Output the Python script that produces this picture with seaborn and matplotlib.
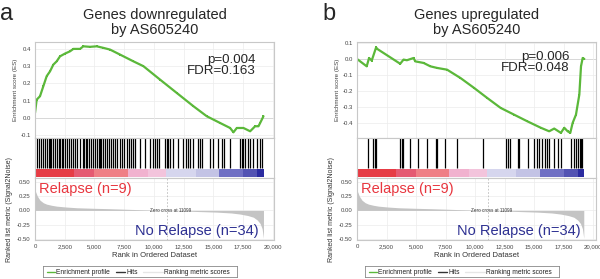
import numpy as np
import pandas as pd
import matplotlib
matplotlib.use("Agg")
import matplotlib.pyplot as plt
import seaborn as sns

sns.set_style("white")
plt.rcParams['font.family'] = ['Liberation Sans', 'DejaVu Sans']

# ---- panel a : genes downregulated ----
es_a_rank = [0, 140, 421, 701, 982, 1262, 1543, 1823, 2104, 2525, 2945, 3226, 3787, 4067,
             4628, 5189, 5750, 6311, 7153, 8275, 9116, 10519, 11921, 13324, 14446, 15568,
             16410, 16690, 16971, 17532, 18093, 18513, 18794, 18934, 19215]
es_a_val = [0.029, 0.106, 0.126, 0.184, 0.242, 0.27, 0.309, 0.328, 0.357, 0.373, 0.386, 0.4,
            0.4, 0.415, 0.412, 0.415, 0.406, 0.396, 0.367, 0.328, 0.3, 0.222, 0.145, 0.068,
            0.01, -0.029, -0.058, -0.083, -0.058, -0.058, -0.077, -0.048, -0.048, -0.029, 0.01]
hits_a = [196, 364, 532, 700, 812, 980, 1148, 1260, 1372, 1540, 1708, 1820, 1988, 2100, 2268,
          2380, 2548, 2716, 2884, 3052, 3220, 3388, 3500, 3780, 4004, 4116, 4284, 4396, 4564,
          4732, 4900, 5068, 5180, 5348, 5460, 5572, 5684, 5852, 6020, 6188, 6356, 6580, 6748,
          6916, 7140, 7308, 7476, 7700, 7868, 8092, 8260, 8428, 8820, 9240, 9660, 9890, 10084,
          10252, 10420, 10924, 11092, 11176, 11344, 11596, 12017, 12437, 12689, 12857, 13025,
          13277, 13697, 13866, 14034, 14706, 14958, 15378, 15714, 15882, 16387, 17227, 17395,
          17479, 17647, 17899, 18067, 18319, 18655, 18908, 19076]

# ---- panel b : genes upregulated ----
es_b_rank = [0, 823, 1021, 1248, 1617, 1730, 3660, 3943, 4227, 4794, 4936, 5645, 6213, 6780,
             7631, 8766, 9900, 11035, 12170, 13305, 14440, 15574, 16283, 16709, 17277, 17560,
             17844, 18071, 18270, 18553, 18837, 18979, 19121, 19262]
es_b_val = [0.0, -0.046, 0.006, -0.01, 0.072, 0.062, -0.03, -0.004, -0.008, 0.006, -0.015,
            -0.025, -0.046, -0.056, -0.067, -0.119, -0.18, -0.244, -0.306, -0.348, -0.39,
            -0.43, -0.452, -0.435, -0.462, -0.43, -0.452, -0.462, -0.40, -0.348, -0.223,
            -0.046, 0.006, 0.0]
hits_b = [936, 1362, 1532, 1617, 3660, 3830, 3915, 4511, 5191, 5957, 6723, 6809, 7489, 8511,
          10638, 12596, 12766, 12936, 13617, 13702, 14468, 14979, 15234, 15404, 15660, 15915,
          16085, 16255, 16681, 17021, 17277, 18128, 18383, 18553, 18723, 18894, 18979, 19064]

# ranked list metric (same data set for both)
metric_rank = [0, 200, 421, 700, 982, 1400, 1823, 2600, 3506, 5000, 6311, 8500, 11099,
               13500, 15288, 16500, 17251, 17900, 18373, 18700, 18934, 19100, 19215]
metric_val = [0.355, 0.25, 0.18, 0.135, 0.11, 0.09, 0.075, 0.06, 0.047, 0.037, 0.03, 0.015,
              0.0, -0.018, -0.03, -0.045, -0.064, -0.09, -0.12, -0.17, -0.23, -0.32, -0.49]
zero_cross = 11099

# class color bar blocks (rank edges)
bar_edges = [0, 3300, 5000, 7800, 9500, 11000, 13500, 15500, 17500, 18700, 19250]
bar_colors = ['#e63c45', '#e55a72', '#ef7f86', '#f1b2cf', '#f3c4dc', '#d6d6ee', '#c3c3e5',
              '#7070c4', '#5353b3', '#2b2ba0']

xticks = [0, 2500, 5000, 7500, 10000, 12500, 15000, 17500, 20000]
xtick_labels = ['0', '2,500', '5,000', '7,500', '10,000', '12,500', '15,000', '17,500', '20,000']

W, H = 600, 279
fig = plt.figure(figsize=(6, 2.79), dpi=100)

GREEN = '#5bb83a'
SPINE = '#c8c8c8'


def fa(x0, y_top, w, h):
    return [x0 / W, 1 - (y_top + h) / H, w / W, h / H]


def style(ax):
    for s in ax.spines.values():
        s.set_color(SPINE)
        s.set_linewidth(0.8)
    ax.tick_params(labelsize=4.3, length=1.5, width=0.4, color='#888888', pad=1.5,
                   labelcolor='#444444')


def panel(x0, xmax, es_rank, es_val, es_lim, es_ticks, hits, title, letter, pval, fdr, ptx, pty):
    # enrichment score
    ax1 = fig.add_axes(fa(x0, 42, 239, 96))
    df = pd.DataFrame({'rank': es_rank, 'es': es_val})
    sns.lineplot(data=df, x='rank', y='es', ax=ax1, color=GREEN, lw=1.6, marker='s',
                 markersize=1.5, markeredgewidth=0)
    ax1.axhline(0, color='#aaaaaa', lw=0.7, zorder=0)
    ax1.set_xlim(0, xmax)
    ax1.set_ylim(*es_lim)
    ax1.set_xticks(xticks)
    ax1.set_xticklabels([])
    ax1.set_yticks(es_ticks)
    ax1.set_yticklabels([f'{t:.1f}' for t in es_ticks])
    ax1.grid(True, color='#ececec', lw=0.5)
    ax1.set_xlabel('')
    ax1.set_ylabel('Enrichment score (ES)', fontsize=4.5, color='#444444', labelpad=2)
    style(ax1)
    ax1.tick_params(axis='x', length=0)
    fig.text(ptx / W, 1 - pty / H, pval, ha='right', va='baseline', fontsize=9.6)
    fig.text(ptx / W, 1 - (pty + 11.5) / H, fdr, ha='right', va='baseline', fontsize=9.6)
    fig.text((x0 + 120) / W, 1 - 15 / H, title[0], ha='center', va='center', fontsize=10.5)
    fig.text((x0 + 120) / W, 1 - 30 / H, title[1], ha='center', va='center', fontsize=10.5)
    fig.text((x0 - 35) / W, 1 - 14 / H, letter, ha='left', va='center', fontsize=17)

    # hits + class bar
    ax2 = fig.add_axes(fa(x0, 138, 239, 40))
    ax2.vlines(hits, 0.25, 1, color='black', lw=0.9)
    for i, c in enumerate(bar_colors):
        ax2.barh(0.125, bar_edges[i + 1] - bar_edges[i], left=bar_edges[i], height=0.2,
                 color=c, lw=0)
    ax2.set_xlim(0, xmax)
    ax2.set_ylim(0, 1)
    ax2.set_xticks([])
    ax2.set_yticks([])
    style(ax2)

    # ranked list metric
    ax3 = fig.add_axes(fa(x0, 178, 239, 62))
    ax3.fill_between(metric_rank, metric_val, 0, color='#c4c4c4', lw=0)
    ax3.axvline(zero_cross, color='#bbbbbb', lw=0.6, ls=(0, (2, 2)))
    ax3.text(zero_cross + 300, 0.005, f'Zero cross at {zero_cross}', fontsize=3.3,
             ha='center', va='center', color='#333333')
    ax3.set_xlim(0, xmax)
    ax3.set_ylim(-0.52, 0.57)
    mt = [0.5, 0.25, 0.0, -0.25, -0.5]
    ax3.set_yticks(mt)
    ax3.set_yticklabels([f'{t:.2f}' for t in mt])
    ax3.set_xticks(xticks)
    ax3.set_xticklabels(xtick_labels)
    ax3.grid(True, color='#ececec', lw=0.5)
    ax3.set_xlabel('Rank in Ordered Dataset', fontsize=5.5, color='#333333', labelpad=2)
    ax3.set_ylabel('Ranked list metric (Signal2Noise)', fontsize=5, color='#333333',
                   labelpad=3)
    style(ax3)
    ax3.text(0.015, 0.82, 'Relapse (n=9)', transform=ax3.transAxes, color='#e8363f',
             fontsize=10.5, ha='left', va='center')
    ax3.text(0.935, 0.15, 'No Relapse (n=34)', transform=ax3.transAxes, color='#2e3192',
             fontsize=10.5, ha='right', va='center')

    # legend
    lax = fig.add_axes(fa(x0 + 8, 266, 194, 11))
    lax.set_xlim(0, 194)
    lax.set_ylim(0, 1)
    lax.set_xticks([])
    lax.set_yticks([])
    for s in lax.spines.values():
        s.set_color('#888888')
        s.set_linewidth(0.6)
    items = [(4, 12, GREEN, 'Enrichment profile'), (73, 82, '#333333', 'Hits'),
             (100, 120, '#e6e6e6', 'Ranking metric scores')]
    for px0, px1, c, lab in items:
        lax.plot([px0, px1], [0.5, 0.5], color=c, lw=1.0)
        lax.text(px1 + 1.5, 0.45, lab, fontsize=4.8, va='center', ha='left', color='#222222')


panel(35, 20100, es_a_rank, es_a_val, (-0.116, 0.44), [-0.1, 0.0, 0.1, 0.2, 0.3, 0.4],
      hits_a, ('Genes downregulated', 'by AS605240'), 'a', 'p=0.004', 'FDR=0.163', 256, 63)
panel(357, 20250, es_b_rank, es_b_val, (-0.494, 0.106), [-0.4, -0.3, -0.2, -0.1, 0.0, 0.1],
      hits_b, ('Genes upregulated', 'by AS605240'), 'b', 'p=0.006', 'FDR=0.048', 570, 60)

fig.savefig('out.png', dpi=100)
